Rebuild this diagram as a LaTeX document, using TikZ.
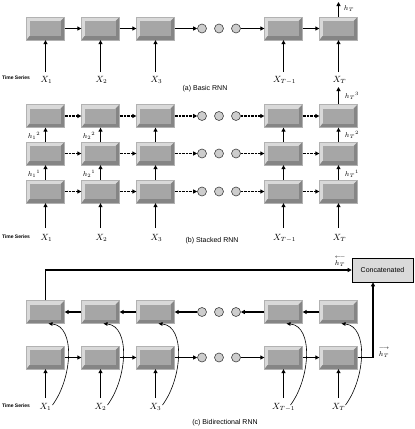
\documentclass[tikz,border=0pt]{standalone}
\usepackage{amsmath}
\usepackage{fontspec}
\setsansfont{Liberation Sans}
\usetikzlibrary{arrows.meta}
\definecolor{boxlight}{HTML}{D9D9D9}
\definecolor{boxface}{HTML}{A6A6A6}
\definecolor{boxdark}{HTML}{858585}
\definecolor{circfill}{HTML}{CDCDCD}
\definecolor{catfill}{HTML}{DADADA}
\tikzset{
  cell/.style={rectangle, inner sep=0pt, minimum width=38pt, minimum height=23pt,
    fill=boxlight, draw=gray!60, line width=0.3pt,
    path picture={
      \fill[boxdark] (path picture bounding box.south west)
        -- (path picture bounding box.south east)
        -- (path picture bounding box.north east)
        -- ([shift={(-4pt,-4pt)}]path picture bounding box.north east)
        -- ([shift={(-4pt,4pt)}]path picture bounding box.south east)
        -- ([shift={(3pt,4pt)}]path picture bounding box.south west) -- cycle;
      \fill[boxface] ([shift={(3pt,4pt)}]path picture bounding box.south west)
        rectangle ([shift={(-4pt,-4pt)}]path picture bounding box.north east);
    }},
  dotc/.style={circle, inner sep=0pt, minimum size=9pt, fill=circfill, draw=black!75, line width=0.6pt},
  arr/.style={-{Triangle[length=4pt,width=4pt]}, line width=1.3pt},
  darr/.style={arr, dash pattern=on 1pt off 0.4pt, line width=1.5pt},
  curv/.style={-{Triangle[length=4pt,width=3.5pt]}, line width=0.6pt},
  xlab/.style={font=\fontsize{9}{9}\selectfont, inner sep=0pt},
  hlab/.style={font=\fontsize{7.5}{7.5}\selectfont, inner sep=0pt},
  ttl/.style={font=\sffamily\fontsize{7}{7}\selectfont, inner sep=0pt},
  tser/.style={font=\sffamily\bfseries\fontsize{5}{5}\selectfont, inner sep=0pt},
  catbox/.style={rectangle, draw=black, line width=0.6pt, fill=catfill, minimum width=61pt,
    minimum height=24pt, inner sep=0pt, font=\sffamily\fontsize{7}{7}\selectfont}
}
\begin{document}
\begin{tikzpicture}[x=1pt,y=-1pt]
\useasboundingbox (0,0) rectangle (415,429);

% ---------------- (a) Basic RNN ----------------
\foreach \n/\x/\t in {1/45.5/X_1,2/100.5/X_2,3/155.5/X_3,4/283.5/X_{T-1},5/338.5/X_T} {
  \node[cell] (a\n) at (\x,28.5) {};
  \coordinate (ai\n) at (\x,72);
  \draw[arr] (ai\n) -- (a\n);
  \node[xlab] (ax\n) at (\x+1,80) {$\t$};
}
\foreach \n/\x in {1/202,2/219,3/236} \node[dotc] (ac\n) at (\x,28.5) {};
\draw[arr] (a1) -- (a2);
\draw[arr] (a2) -- (a3);
\draw[arr] (a3) -- (ac1);
\draw[arr] (ac3) -- (a4);
\draw[arr] (a4) -- (a5);
\coordinate (ahT) at (338.5,2);
\draw[arr] (a5) -- (ahT);
\node[hlab] (ahl) at (349,9) {$h_T$};
\node[tser] (ats) at (16,78) {Time Series};
\node[ttl] (att) at (205,89) {(a) Basic RNN};

% ---------------- (b) Stacked RNN ----------------
\foreach \r/\y in {1/116,2/153.5,3/191.5} {
  \foreach \n/\x in {1/45.5,2/100.5,3/155.5,4/283.5,5/338.5}
    \node[cell] (b\r\n) at (\x,\y) {};
  \foreach \n/\x in {1/202,2/219,3/236}
    \node[dotc] (bc\r\n) at (\x,\y) {};
  \draw[darr] (b\r1) -- (b\r2);
  \draw[darr] (b\r2) -- (b\r3);
  \draw[darr] (b\r3) -- (bc\r1);
  \draw[darr] (bc\r3) -- (b\r4);
  \draw[darr] (b\r4) -- (b\r5);
}
\foreach \n/\x/\t in {1/45.5/X_1,2/100.5/X_2,3/155.5/X_3,4/283.5/X_{T-1},5/338.5/X_T} {
  \draw[arr] (b3\n) -- (b2\n);
  \draw[arr] (b2\n) -- (b1\n);
  \coordinate (bi\n) at (\x,228);
  \draw[arr] (bi\n) -- (b3\n);
  \node[xlab] (bx\n) at (\x+1,238) {$\t$};
}
\coordinate (bhT) at (338.5,87);
\draw[arr] (b15) -- (bhT);
\node[hlab] (bl1) at (34,136) {${h_1}^{2}$};
\node[hlab] (bl2) at (89,136) {${h_2}^{2}$};
\node[hlab] (bl3) at (34,174) {${h_1}^{1}$};
\node[hlab] (bl4) at (89,174) {${h_2}^{1}$};
\node[hlab] (bl5) at (352,96) {${h_T}^{3}$};
\node[hlab] (bl6) at (352,135) {${h_T}^{2}$};
\node[hlab] (bl7) at (352,174) {${h_T}^{1}$};
\node[tser] (bts) at (16,237) {Time Series};
\node[ttl] (btt) at (212,241) {(b) Stacked RNN};

% ---------------- (c) Bidirectional RNN ----------------
\node[catbox] (cat) at (382.5,270) {Concatenated};
\foreach \n/\x in {1/45.5,2/100.5,3/155.5,4/283.5,5/338.5} {
  \node[cell] (u\n) at (\x,312) {};
  \node[cell] (l\n) at (\x,357.5) {};
}
\foreach \n/\x in {1/202,2/219,3/236} {
  \node[dotc] (uc\n) at (\x,312) {};
  \node[dotc] (lc\n) at (\x,357.5) {};
}
\draw[arr] (u2) -- (u1);
\draw[arr] (u3) -- (u2);
\draw[arr] (uc1) -- (u3);
\draw[arr] (u4) -- (uc3);
\draw[arr] (u5) -- (u4);
\draw[arr] (l1) -- (l2);
\draw[arr] (l2) -- (l3);
\draw[arr] (l3) -- (lc1);
\draw[arr] (lc3) -- (l4);
\draw[arr] (l4) -- (l5);
\draw[arr] (l5.east) -| ([xshift=-9.5pt]cat.south);
\draw[arr] (u1.north) |- (cat.west);
\node[hlab] (cl1) at (340,261) {$\overset{\raisebox{1.5pt}{$\scriptscriptstyle\longleftarrow$}}{h_T}$};
\node[hlab] (cl2) at (384,352) {$\overset{\raisebox{1.5pt}{$\scriptscriptstyle\longrightarrow$}}{h_T}$};
\foreach \n/\x/\t in {1/45.5/X_1,2/100.5/X_2,3/155.5/X_3,4/283.5/X_{T-1},5/338.5/X_T} {
  \coordinate (ci\n) at (\x,398);
  \draw[arr] (ci\n) -- (l\n);
  \node[xlab] (cx\n) at (\x,407) {$\t$};
  \coordinate (cs\n) at (\x+7,405);
  \draw[curv] (cs\n) .. controls (\x+27,378) and (\x+30,326) .. ([xshift=3pt]u\n.south);
}
\node[tser] (cts) at (16,406) {Time Series};
\node[ttl] (ctt) at (225,423) {(c) Bidirectional RNN};
\end{tikzpicture}
\end{document}
